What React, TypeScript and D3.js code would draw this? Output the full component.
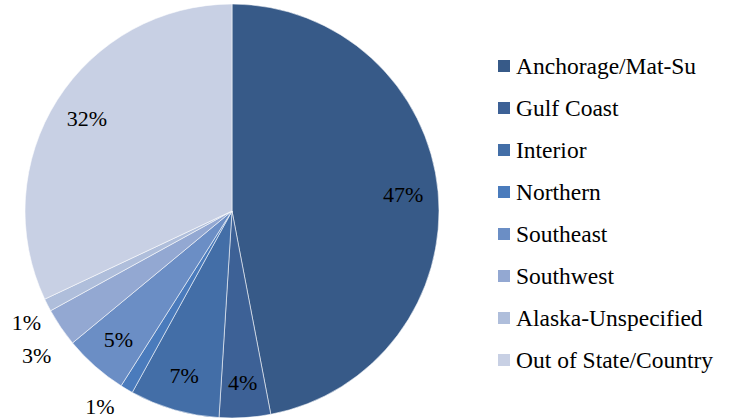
import React from "react";
import * as d3 from "d3";

const categories = [
  "Anchorage/Mat-Su",
  "Gulf Coast",
  "Interior",
  "Northern",
  "Southeast",
  "Southwest",
  "Alaska-Unspecified",
  "Out of State/Country",
];
const values = [47, 4, 7, 1, 5, 3, 1, 32];
const colors = [
  "#375A88",
  "#3D6196",
  "#436EA7",
  "#4A7BBC",
  "#6B8EC5",
  "#93A8D2",
  "#AFBEDB",
  "#C8D0E4",
];
// layout: labels drawn outside the pie, with their placement angle (deg) and radius
const outsideLabels: Record<string, { angle: number; r: number }> = {
  Northern: { angle: 214, r: 236 },
  Southwest: { angle: 233.5, r: 243 },
  "Alaska-Unspecified": { angle: 241.5, r: 234 },
};

const W = 730;
const H = 419;
const cx = 232;
const cy = 211;
const R = 207;

const css = `
#piechart text, #piechart tspan, svg#piechart g text {
  font-family: "Liberation Serif", "Times New Roman", Times, serif !important;
}
`;

export default function App() {
  const data = categories.map((c, i) => ({ c, v: values[i], color: colors[i] }));
  const pie = d3.pie<any>().sort(null).value((d: any) => d.v);
  const arcs = pie(data);
  const arc = d3.arc<any>().innerRadius(0).outerRadius(R);
  const total = d3.sum(values);

  const legendY = d3.scalePoint<string>().domain(categories).range([66, 360]);

  return (
    <svg
      id="piechart"
      width={W}
      height={H}
      style={{ position: "absolute", left: 0, top: 0, background: "#fff" }}
    >
      <style>{css}</style>
      <g transform={`translate(${cx},${cy})`}>
        {arcs.map((a, i) => (
          <path
            key={i}
            d={arc(a) as string}
            fill={a.data.color}
            stroke="#fff"
            strokeWidth={0.8}
            strokeOpacity={0.7}
          />
        ))}
      </g>
      {arcs.map((a, i) => {
        const pct = Math.round((a.data.v / total) * 100) + "%";
        const o = outsideLabels[a.data.c];
        let x: number, y: number;
        if (o) {
          const t = (o.angle * Math.PI) / 180;
          x = Math.sin(t) * o.r;
          y = -Math.cos(t) * o.r;
        } else {
          const mid = (a.startAngle + a.endAngle) / 2;
          const r = R * 0.83;
          x = Math.sin(mid) * r;
          y = -Math.cos(mid) * r;
        }
        return (
          <text
            key={"l" + i}
            x={cx + x}
            y={cy + y + 7.5}
            textAnchor="middle"
            style={{ fontFamily: "Liberation Serif", fontSize: "22px" }}
            fill="#000"
          >
            {pct}
          </text>
        );
      })}
      {categories.map((c, i) => (
        <rect
          key={"r" + c}
          x={498}
          y={(legendY(c) as number) - 6}
          width={12}
          height={12}
          fill={colors[i]}
        />
      ))}
      {categories.map((c) => (
        <text
          key={"t" + c}
          x={516}
          y={(legendY(c) as number) + 7.5}
          style={{ fontFamily: "Liberation Serif", fontSize: "23.5px" }}
          fill="#000"
        >
          {c}
        </text>
      ))}
    </svg>
  );
}
